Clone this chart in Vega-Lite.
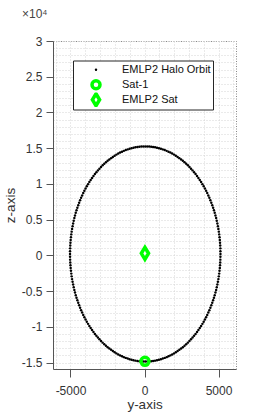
{
  "$schema": "https://vega.github.io/schema/vega-lite/v6.json",
  "width": 183,
  "height": 328,
  "autosize": {"type": "none"},
  "padding": {"left": 53, "top": 41, "right": 25, "bottom": 48},
  "background": "white",
  "title": {"text": "×10⁴", "anchor": "start", "frame": "group", "dx": -31, "offset": 5, "baseline": "alphabetic", "fontSize": 12, "fontWeight": "normal", "color": "#444444", "font": "Liberation Sans"},
  "config": {
    "font": "Liberation Sans",
    "view": {"stroke": "#888888", "strokeDash": [1, 1.5], "strokeWidth": 1}
  },
  "datasets": {
    "orbit": [
      {"y":5130,"z":200,"series":"EMLP2 Halo Orbit"},{"y":5123,"z":988,"series":"EMLP2 Halo Orbit"},{"y":5102,"z":1773,"series":"EMLP2 Halo Orbit"},{"y":5067,"z":2554,"series":"EMLP2 Halo Orbit"},{"y":5019,"z":3329,"series":"EMLP2 Halo Orbit"},{"y":4957,"z":4095,"series":"EMLP2 Halo Orbit"},{"y":4881,"z":4851,"series":"EMLP2 Halo Orbit"},{"y":4793,"z":5593,"series":"EMLP2 Halo Orbit"},{"y":4691,"z":6321,"series":"EMLP2 Halo Orbit"},{"y":4576,"z":7033,"series":"EMLP2 Halo Orbit"},{"y":4449,"z":7725,"series":"EMLP2 Halo Orbit"},{"y":4310,"z":8397,"series":"EMLP2 Halo Orbit"},{"y":4160,"z":9046,"series":"EMLP2 Halo Orbit"},{"y":3998,"z":9671,"series":"EMLP2 Halo Orbit"},{"y":3825,"z":10270,"series":"EMLP2 Halo Orbit"},{"y":3642,"z":10842,"series":"EMLP2 Halo Orbit"},{"y":3449,"z":11384,"series":"EMLP2 Halo Orbit"},{"y":3247,"z":11896,"series":"EMLP2 Halo Orbit"},{"y":3036,"z":12376,"series":"EMLP2 Halo Orbit"},{"y":2817,"z":12822,"series":"EMLP2 Halo Orbit"},{"y":2590,"z":13234,"series":"EMLP2 Halo Orbit"},{"y":2356,"z":13610,"series":"EMLP2 Halo Orbit"},{"y":2116,"z":13949,"series":"EMLP2 Halo Orbit"},{"y":1871,"z":14250,"series":"EMLP2 Halo Orbit"},{"y":1620,"z":14513,"series":"EMLP2 Halo Orbit"},{"y":1365,"z":14737,"series":"EMLP2 Halo Orbit"},{"y":1106,"z":14921,"series":"EMLP2 Halo Orbit"},{"y":845,"z":15065,"series":"EMLP2 Halo Orbit"},{"y":581,"z":15168,"series":"EMLP2 Halo Orbit"},{"y":316,"z":15229,"series":"EMLP2 Halo Orbit"},{"y":50,"z":15250,"series":"EMLP2 Halo Orbit"},
      {"y":-5030,"z":200,"series":"EMLP2 Halo Orbit"},{"y":-5023,"z":988,"series":"EMLP2 Halo Orbit"},{"y":-5002,"z":1773,"series":"EMLP2 Halo Orbit"},{"y":-4967,"z":2554,"series":"EMLP2 Halo Orbit"},{"y":-4919,"z":3329,"series":"EMLP2 Halo Orbit"},{"y":-4857,"z":4095,"series":"EMLP2 Halo Orbit"},{"y":-4781,"z":4851,"series":"EMLP2 Halo Orbit"},{"y":-4693,"z":5593,"series":"EMLP2 Halo Orbit"},{"y":-4591,"z":6321,"series":"EMLP2 Halo Orbit"},{"y":-4476,"z":7033,"series":"EMLP2 Halo Orbit"},{"y":-4349,"z":7725,"series":"EMLP2 Halo Orbit"},{"y":-4210,"z":8397,"series":"EMLP2 Halo Orbit"},{"y":-4060,"z":9046,"series":"EMLP2 Halo Orbit"},{"y":-3898,"z":9671,"series":"EMLP2 Halo Orbit"},{"y":-3725,"z":10270,"series":"EMLP2 Halo Orbit"},{"y":-3542,"z":10842,"series":"EMLP2 Halo Orbit"},{"y":-3349,"z":11384,"series":"EMLP2 Halo Orbit"},{"y":-3147,"z":11896,"series":"EMLP2 Halo Orbit"},{"y":-2936,"z":12376,"series":"EMLP2 Halo Orbit"},{"y":-2717,"z":12822,"series":"EMLP2 Halo Orbit"},{"y":-2490,"z":13234,"series":"EMLP2 Halo Orbit"},{"y":-2256,"z":13610,"series":"EMLP2 Halo Orbit"},{"y":-2016,"z":13949,"series":"EMLP2 Halo Orbit"},{"y":-1771,"z":14250,"series":"EMLP2 Halo Orbit"},{"y":-1520,"z":14513,"series":"EMLP2 Halo Orbit"},{"y":-1265,"z":14737,"series":"EMLP2 Halo Orbit"},{"y":-1006,"z":14921,"series":"EMLP2 Halo Orbit"},{"y":-745,"z":15065,"series":"EMLP2 Halo Orbit"},{"y":-481,"z":15168,"series":"EMLP2 Halo Orbit"},{"y":-216,"z":15229,"series":"EMLP2 Halo Orbit"},
      {"y":-5023,"z":-588,"series":"EMLP2 Halo Orbit"},{"y":-5002,"z":-1373,"series":"EMLP2 Halo Orbit"},{"y":-4967,"z":-2154,"series":"EMLP2 Halo Orbit"},{"y":-4919,"z":-2929,"series":"EMLP2 Halo Orbit"},{"y":-4857,"z":-3695,"series":"EMLP2 Halo Orbit"},{"y":-4781,"z":-4451,"series":"EMLP2 Halo Orbit"},{"y":-4693,"z":-5193,"series":"EMLP2 Halo Orbit"},{"y":-4591,"z":-5921,"series":"EMLP2 Halo Orbit"},{"y":-4476,"z":-6633,"series":"EMLP2 Halo Orbit"},{"y":-4349,"z":-7325,"series":"EMLP2 Halo Orbit"},{"y":-4210,"z":-7997,"series":"EMLP2 Halo Orbit"},{"y":-4060,"z":-8646,"series":"EMLP2 Halo Orbit"},{"y":-3898,"z":-9271,"series":"EMLP2 Halo Orbit"},{"y":-3725,"z":-9870,"series":"EMLP2 Halo Orbit"},{"y":-3542,"z":-10442,"series":"EMLP2 Halo Orbit"},{"y":-3349,"z":-10984,"series":"EMLP2 Halo Orbit"},{"y":-3147,"z":-11496,"series":"EMLP2 Halo Orbit"},{"y":-2936,"z":-11976,"series":"EMLP2 Halo Orbit"},{"y":-2717,"z":-12422,"series":"EMLP2 Halo Orbit"},{"y":-2490,"z":-12834,"series":"EMLP2 Halo Orbit"},{"y":-2256,"z":-13210,"series":"EMLP2 Halo Orbit"},{"y":-2016,"z":-13549,"series":"EMLP2 Halo Orbit"},{"y":-1771,"z":-13850,"series":"EMLP2 Halo Orbit"},{"y":-1520,"z":-14113,"series":"EMLP2 Halo Orbit"},{"y":-1265,"z":-14337,"series":"EMLP2 Halo Orbit"},{"y":-1006,"z":-14521,"series":"EMLP2 Halo Orbit"},{"y":-745,"z":-14665,"series":"EMLP2 Halo Orbit"},{"y":-481,"z":-14768,"series":"EMLP2 Halo Orbit"},{"y":-216,"z":-14829,"series":"EMLP2 Halo Orbit"},{"y":50,"z":-14850,"series":"EMLP2 Halo Orbit"},
      {"y":5123,"z":-588,"series":"EMLP2 Halo Orbit"},{"y":5102,"z":-1373,"series":"EMLP2 Halo Orbit"},{"y":5067,"z":-2154,"series":"EMLP2 Halo Orbit"},{"y":5019,"z":-2929,"series":"EMLP2 Halo Orbit"},{"y":4957,"z":-3695,"series":"EMLP2 Halo Orbit"},{"y":4881,"z":-4451,"series":"EMLP2 Halo Orbit"},{"y":4793,"z":-5193,"series":"EMLP2 Halo Orbit"},{"y":4691,"z":-5921,"series":"EMLP2 Halo Orbit"},{"y":4576,"z":-6633,"series":"EMLP2 Halo Orbit"},{"y":4449,"z":-7325,"series":"EMLP2 Halo Orbit"},{"y":4310,"z":-7997,"series":"EMLP2 Halo Orbit"},{"y":4160,"z":-8646,"series":"EMLP2 Halo Orbit"},{"y":3998,"z":-9271,"series":"EMLP2 Halo Orbit"},{"y":3825,"z":-9870,"series":"EMLP2 Halo Orbit"},{"y":3642,"z":-10442,"series":"EMLP2 Halo Orbit"},{"y":3449,"z":-10984,"series":"EMLP2 Halo Orbit"},{"y":3247,"z":-11496,"series":"EMLP2 Halo Orbit"},{"y":3036,"z":-11976,"series":"EMLP2 Halo Orbit"},{"y":2817,"z":-12422,"series":"EMLP2 Halo Orbit"},{"y":2590,"z":-12834,"series":"EMLP2 Halo Orbit"},{"y":2356,"z":-13210,"series":"EMLP2 Halo Orbit"},{"y":2116,"z":-13549,"series":"EMLP2 Halo Orbit"},{"y":1871,"z":-13850,"series":"EMLP2 Halo Orbit"},{"y":1620,"z":-14113,"series":"EMLP2 Halo Orbit"},{"y":1365,"z":-14337,"series":"EMLP2 Halo Orbit"},{"y":1106,"z":-14521,"series":"EMLP2 Halo Orbit"},{"y":845,"z":-14665,"series":"EMLP2 Halo Orbit"},{"y":581,"z":-14768,"series":"EMLP2 Halo Orbit"},{"y":316,"z":-14829,"series":"EMLP2 Halo Orbit"},
      {"y":5128,"z":594,"series":"EMLP2 Halo Orbit"},{"y":5114,"z":1381,"series":"EMLP2 Halo Orbit"},{"y":5087,"z":2164,"series":"EMLP2 Halo Orbit"},{"y":5045,"z":2943,"series":"EMLP2 Halo Orbit"},{"y":4990,"z":3713,"series":"EMLP2 Halo Orbit"},{"y":4921,"z":4474,"series":"EMLP2 Halo Orbit"},{"y":4839,"z":5224,"series":"EMLP2 Halo Orbit"},{"y":4743,"z":5959,"series":"EMLP2 Halo Orbit"},{"y":4635,"z":6679,"series":"EMLP2 Halo Orbit"},{"y":4514,"z":7381,"series":"EMLP2 Halo Orbit"},{"y":4381,"z":8064,"series":"EMLP2 Halo Orbit"},{"y":4237,"z":8724,"series":"EMLP2 Halo Orbit"},{"y":4080,"z":9362,"series":"EMLP2 Halo Orbit"},{"y":3913,"z":9974,"series":"EMLP2 Halo Orbit"},{"y":3735,"z":10560,"series":"EMLP2 Halo Orbit"},{"y":3547,"z":11117,"series":"EMLP2 Halo Orbit"},{"y":3349,"z":11644,"series":"EMLP2 Halo Orbit"},{"y":3142,"z":12140,"series":"EMLP2 Halo Orbit"},{"y":2927,"z":12603,"series":"EMLP2 Halo Orbit"},{"y":2704,"z":13032,"series":"EMLP2 Halo Orbit"},{"y":2474,"z":13426,"series":"EMLP2 Halo Orbit"},{"y":2237,"z":13784,"series":"EMLP2 Halo Orbit"},{"y":1994,"z":14104,"series":"EMLP2 Halo Orbit"},{"y":1746,"z":14387,"series":"EMLP2 Halo Orbit"},{"y":1493,"z":14630,"series":"EMLP2 Halo Orbit"},{"y":1236,"z":14834,"series":"EMLP2 Halo Orbit"},{"y":976,"z":14998,"series":"EMLP2 Halo Orbit"},{"y":713,"z":15121,"series":"EMLP2 Halo Orbit"},{"y":449,"z":15204,"series":"EMLP2 Halo Orbit"},{"y":183,"z":15245,"series":"EMLP2 Halo Orbit"},
      {"y":-5028,"z":594,"series":"EMLP2 Halo Orbit"},{"y":-5014,"z":1381,"series":"EMLP2 Halo Orbit"},{"y":-4987,"z":2164,"series":"EMLP2 Halo Orbit"},{"y":-4945,"z":2943,"series":"EMLP2 Halo Orbit"},{"y":-4890,"z":3713,"series":"EMLP2 Halo Orbit"},{"y":-4821,"z":4474,"series":"EMLP2 Halo Orbit"},{"y":-4739,"z":5224,"series":"EMLP2 Halo Orbit"},{"y":-4643,"z":5959,"series":"EMLP2 Halo Orbit"},{"y":-4535,"z":6679,"series":"EMLP2 Halo Orbit"},{"y":-4414,"z":7381,"series":"EMLP2 Halo Orbit"},{"y":-4281,"z":8064,"series":"EMLP2 Halo Orbit"},{"y":-4137,"z":8724,"series":"EMLP2 Halo Orbit"},{"y":-3980,"z":9362,"series":"EMLP2 Halo Orbit"},{"y":-3813,"z":9974,"series":"EMLP2 Halo Orbit"},{"y":-3635,"z":10560,"series":"EMLP2 Halo Orbit"},{"y":-3447,"z":11117,"series":"EMLP2 Halo Orbit"},{"y":-3249,"z":11644,"series":"EMLP2 Halo Orbit"},{"y":-3042,"z":12140,"series":"EMLP2 Halo Orbit"},{"y":-2827,"z":12603,"series":"EMLP2 Halo Orbit"},{"y":-2604,"z":13032,"series":"EMLP2 Halo Orbit"},{"y":-2374,"z":13426,"series":"EMLP2 Halo Orbit"},{"y":-2137,"z":13784,"series":"EMLP2 Halo Orbit"},{"y":-1894,"z":14104,"series":"EMLP2 Halo Orbit"},{"y":-1646,"z":14387,"series":"EMLP2 Halo Orbit"},{"y":-1393,"z":14630,"series":"EMLP2 Halo Orbit"},{"y":-1136,"z":14834,"series":"EMLP2 Halo Orbit"},{"y":-876,"z":14998,"series":"EMLP2 Halo Orbit"},{"y":-613,"z":15121,"series":"EMLP2 Halo Orbit"},{"y":-349,"z":15204,"series":"EMLP2 Halo Orbit"},{"y":-83,"z":15245,"series":"EMLP2 Halo Orbit"},
      {"y":-5028,"z":-194,"series":"EMLP2 Halo Orbit"},{"y":-5014,"z":-981,"series":"EMLP2 Halo Orbit"},{"y":-4987,"z":-1764,"series":"EMLP2 Halo Orbit"},{"y":-4945,"z":-2543,"series":"EMLP2 Halo Orbit"},{"y":-4890,"z":-3313,"series":"EMLP2 Halo Orbit"},{"y":-4821,"z":-4074,"series":"EMLP2 Halo Orbit"},{"y":-4739,"z":-4824,"series":"EMLP2 Halo Orbit"},{"y":-4643,"z":-5559,"series":"EMLP2 Halo Orbit"},{"y":-4535,"z":-6279,"series":"EMLP2 Halo Orbit"},{"y":-4414,"z":-6981,"series":"EMLP2 Halo Orbit"},{"y":-4281,"z":-7664,"series":"EMLP2 Halo Orbit"},{"y":-4137,"z":-8324,"series":"EMLP2 Halo Orbit"},{"y":-3980,"z":-8962,"series":"EMLP2 Halo Orbit"},{"y":-3813,"z":-9574,"series":"EMLP2 Halo Orbit"},{"y":-3635,"z":-10160,"series":"EMLP2 Halo Orbit"},{"y":-3447,"z":-10717,"series":"EMLP2 Halo Orbit"},{"y":-3249,"z":-11244,"series":"EMLP2 Halo Orbit"},{"y":-3042,"z":-11740,"series":"EMLP2 Halo Orbit"},{"y":-2827,"z":-12203,"series":"EMLP2 Halo Orbit"},{"y":-2604,"z":-12632,"series":"EMLP2 Halo Orbit"},{"y":-2374,"z":-13026,"series":"EMLP2 Halo Orbit"},{"y":-2137,"z":-13384,"series":"EMLP2 Halo Orbit"},{"y":-1894,"z":-13704,"series":"EMLP2 Halo Orbit"},{"y":-1646,"z":-13987,"series":"EMLP2 Halo Orbit"},{"y":-1393,"z":-14230,"series":"EMLP2 Halo Orbit"},{"y":-1136,"z":-14434,"series":"EMLP2 Halo Orbit"},{"y":-876,"z":-14598,"series":"EMLP2 Halo Orbit"},{"y":-613,"z":-14721,"series":"EMLP2 Halo Orbit"},{"y":-349,"z":-14804,"series":"EMLP2 Halo Orbit"},{"y":-83,"z":-14845,"series":"EMLP2 Halo Orbit"},
      {"y":5128,"z":-194,"series":"EMLP2 Halo Orbit"},{"y":5114,"z":-981,"series":"EMLP2 Halo Orbit"},{"y":5087,"z":-1764,"series":"EMLP2 Halo Orbit"},{"y":5045,"z":-2543,"series":"EMLP2 Halo Orbit"},{"y":4990,"z":-3313,"series":"EMLP2 Halo Orbit"},{"y":4921,"z":-4074,"series":"EMLP2 Halo Orbit"},{"y":4839,"z":-4824,"series":"EMLP2 Halo Orbit"},{"y":4743,"z":-5559,"series":"EMLP2 Halo Orbit"},{"y":4635,"z":-6279,"series":"EMLP2 Halo Orbit"},{"y":4514,"z":-6981,"series":"EMLP2 Halo Orbit"},{"y":4381,"z":-7664,"series":"EMLP2 Halo Orbit"},{"y":4237,"z":-8324,"series":"EMLP2 Halo Orbit"},{"y":4080,"z":-8962,"series":"EMLP2 Halo Orbit"},{"y":3913,"z":-9574,"series":"EMLP2 Halo Orbit"},{"y":3735,"z":-10160,"series":"EMLP2 Halo Orbit"},{"y":3547,"z":-10717,"series":"EMLP2 Halo Orbit"},{"y":3349,"z":-11244,"series":"EMLP2 Halo Orbit"},{"y":3142,"z":-11740,"series":"EMLP2 Halo Orbit"},{"y":2927,"z":-12203,"series":"EMLP2 Halo Orbit"},{"y":2704,"z":-12632,"series":"EMLP2 Halo Orbit"},{"y":2474,"z":-13026,"series":"EMLP2 Halo Orbit"},{"y":2237,"z":-13384,"series":"EMLP2 Halo Orbit"},{"y":1994,"z":-13704,"series":"EMLP2 Halo Orbit"},{"y":1746,"z":-13987,"series":"EMLP2 Halo Orbit"},{"y":1493,"z":-14230,"series":"EMLP2 Halo Orbit"},{"y":1236,"z":-14434,"series":"EMLP2 Halo Orbit"},{"y":976,"z":-14598,"series":"EMLP2 Halo Orbit"},{"y":713,"z":-14721,"series":"EMLP2 Halo Orbit"},{"y":449,"z":-14804,"series":"EMLP2 Halo Orbit"},{"y":183,"z":-14845,"series":"EMLP2 Halo Orbit"},
      {"y":30,"z":-14820,"series":"Sat-1"},
      {"y":30,"z":300,"series":"EMLP2 Sat"}
    ]
  },
  "data": {"name": "orbit"},
  "mark": {"type": "point", "opacity": 1},
  "encoding": {
    "x": {
      "field": "y", "type": "quantitative",
      "scale": {"domain": [-6180, 6180], "nice": false, "zero": false},
      "axis": {
        "title": "y-axis",
        "values": [-6000,-5000,-4000,-3000,-2000,-1000,0,1000,2000,3000,4000,5000,6000],
        "labelExpr": "datum.value % 5000 === 0 ? '' + datum.value : ''",
        "tickColor": {"condition": {"test": "datum.value % 5000 === 0", "value": "#555555"}, "value": "transparent"},
        "tickSize": 8, "tickWidth": 1, "labelPadding": 8,
        "grid": true, "gridColor": "#d4d4d4", "gridDash": [1, 2], "gridWidth": 1,
        "domainColor": "#555555", "domainWidth": 1,
        "labelFontSize": 12, "labelColor": "#333333", "labelFont": "Liberation Sans",
        "titleFontSize": 13.5, "titleColor": "#333333", "titleFontWeight": "normal", "titleFont": "Liberation Sans", "titlePadding": 1,
        "labelOverlap": false, "labelFlush": false
      }
    },
    "y": {
      "field": "z", "type": "quantitative",
      "scale": {"domain": [-15890, 30000], "nice": false, "zero": false},
      "axis": {
        "title": "z-axis",
        "values": [-15000,-14000,-13000,-12000,-11000,-10000,-9000,-8000,-7000,-6000,-5000,-4000,-3000,-2000,-1000,0,1000,2000,3000,4000,5000,6000,7000,8000,9000,10000,11000,12000,13000,14000,15000,16000,17000,18000,19000,20000,21000,22000,23000,24000,25000,26000,27000,28000,29000,30000],
        "labelExpr": "datum.value % 5000 === 0 ? '' + (datum.value / 10000) : ''",
        "tickColor": {"condition": {"test": "datum.value % 5000 === 0", "value": "#555555"}, "value": "transparent"},
        "tickSize": 7, "tickWidth": 1, "labelPadding": 4,
        "grid": true, "gridColor": "#d4d4d4", "gridDash": [1, 2], "gridWidth": 1,
        "domainColor": "#555555", "domainWidth": 1,
        "labelFontSize": 12, "labelColor": "#333333", "labelFont": "Liberation Sans",
        "titleFontSize": 13.5, "titleColor": "#333333", "titleFontWeight": "normal", "titleFont": "Liberation Sans", "titlePadding": 4,
        "labelOverlap": false
      }
    },
    "shape": {
      "field": "series", "type": "nominal",
      "scale": {"domain": ["EMLP2 Halo Orbit", "Sat-1", "EMLP2 Sat"], "range": ["circle", "circle", "M0,-1L0.6,0L0,1L-0.6,0Z"]},
      "legend": {
        "orient": "none", "legendX": 20, "legendY": 19.5, "title": null,
        "fillColor": "white", "strokeColor": "#262626",
        "padding": 2, "symbolOffset": 13, "labelOffset": 18, "rowPadding": 0, "clipHeight": 14.5,
        "labelFontSize": 11, "labelFont": "Liberation Sans", "labelColor": "#111111"
      }
    },
    "fill": {
      "field": "series", "type": "nominal",
      "scale": {"domain": ["EMLP2 Halo Orbit", "Sat-1", "EMLP2 Sat"], "range": ["#000000", "transparent", "transparent"]}
    },
    "stroke": {
      "field": "series", "type": "nominal",
      "scale": {"domain": ["EMLP2 Halo Orbit", "Sat-1", "EMLP2 Sat"], "range": ["#000000", "#00ff00", "#00ff00"]}
    },
    "size": {
      "field": "series", "type": "nominal",
      "scale": {"type": "ordinal", "domain": ["EMLP2 Halo Orbit", "Sat-1", "EMLP2 Sat"], "range": [6, 64, 144]}
    },
    "strokeWidth": {
      "field": "series", "type": "nominal",
      "scale": {"type": "ordinal", "domain": ["EMLP2 Halo Orbit", "Sat-1", "EMLP2 Sat"], "range": [0, 3.5, 3.5]}
    }
  }
}
